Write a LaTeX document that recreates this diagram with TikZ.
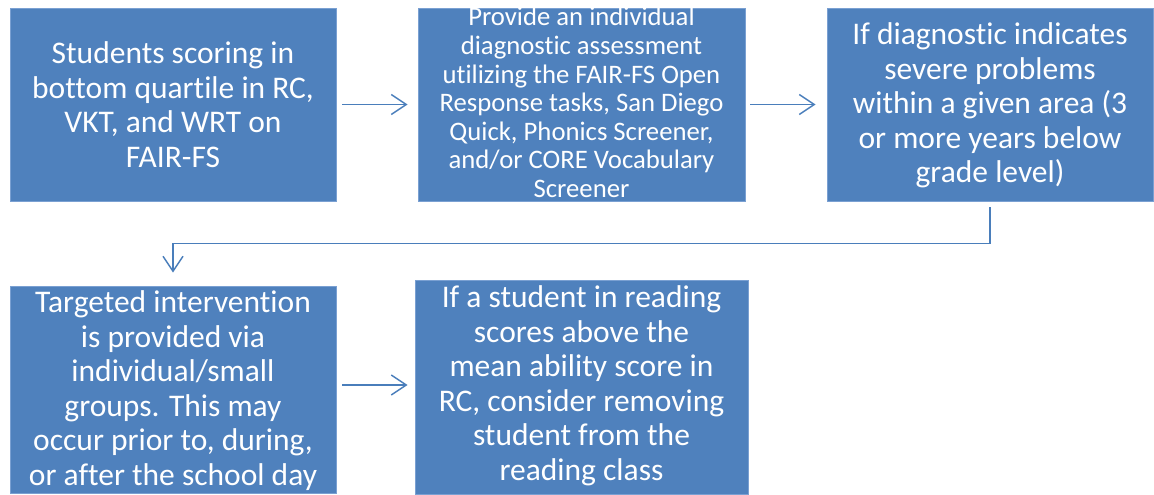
\documentclass[tikz,border=0pt]{standalone}
\usepackage{fontspec}
\setmainfont[Ligatures=NoCommon]{Carlito}
\usepackage{tikz}
\usetikzlibrary{arrows.meta}

\definecolor{boxblue}{RGB}{79,129,189}
\definecolor{boxline}{RGB}{122,160,210}
\definecolor{linkblue}{RGB}{74,126,187}

\tikzset{
	stepbox/.style={draw=boxline, fill=boxblue, line width=0.8pt, inner sep=0pt},
	steptext/.style={text=white, align=center, inner sep=0pt, font=\fontsize{31.5}{34.5}\selectfont},
	smalltext/.style={steptext, font=\fontsize{26.7}{28.6}\selectfont},
	link/.style={draw=linkblue, line width=1.5pt, -{Straight Barb[length=15pt,width=20pt]}}
}

\begin{document}
\begin{tikzpicture}[x=1pt,y=-1pt]
		\useasboundingbox (0,0) rectangle (1154,495);
		
		%top row
		\node[stepbox, minimum width=326pt, minimum height=193pt] (find1) at (173,104.5) {};
		\node[stepbox, minimum width=327pt, minimum height=193pt] (find2) at (581.5,104.5) {};
		\node[stepbox, minimum width=326pt, minimum height=193pt] (find3) at (990,104.5) {};
		%bottom row
		\node[stepbox, minimum width=326pt, minimum height=207pt] (find4) at (173,389.5) {};
		\node[stepbox, minimum width=333pt, minimum height=214pt] (find5) at (581.5,387) {};
		
		%texts
		\node[steptext] (text1) at (find1) {Students scoring in\\bottom quartile in RC,\\VKT, and WRT on\\FAIR-FS};
		\node[smalltext] (text2) at ([yshift=2pt]find2.center) {Provide an individual\\diagnostic assessment\\utilizing the FAIR-FS Open\\Response tasks, San Diego\\Quick, Phonics Screener,\\and/or CORE Vocabulary\\Screener};
		\node[steptext] (text3) at ([yshift=-1pt]find3.center) {If diagnostic indicates\\severe problems\\within a given area (3\\or more years below\\grade level)};
		\node[steptext] (text4) at ([yshift=-1pt]find4.center) {Targeted intervention\\is provided via\\individual/small\\groups. This may\\occur prior to, during,\\or after the school day};
		\node[steptext] (text5) at ([yshift=1pt]find5.center) {If a student in reading\\scores above the\\mean ability score in\\RC, consider removing\\student from the\\reading class};
		
		%arrows
		\draw[link, shorten <=6pt, shorten >=10pt] (find1) -- (find2);
		\draw[link, shorten <=5pt, shorten >=11pt] (find2) -- (find3);
		\draw[link, shorten <=6pt, shorten >=13pt] (find3.south) -- ++(0,42) -| (find4.north);
		\draw[link, shorten <=6pt, shorten >=7pt] ([yshift=4.5pt]find4.east) -- ([yshift=4.5pt]find4.east -| find5.west);
		
		\end{tikzpicture}
\end{document}
